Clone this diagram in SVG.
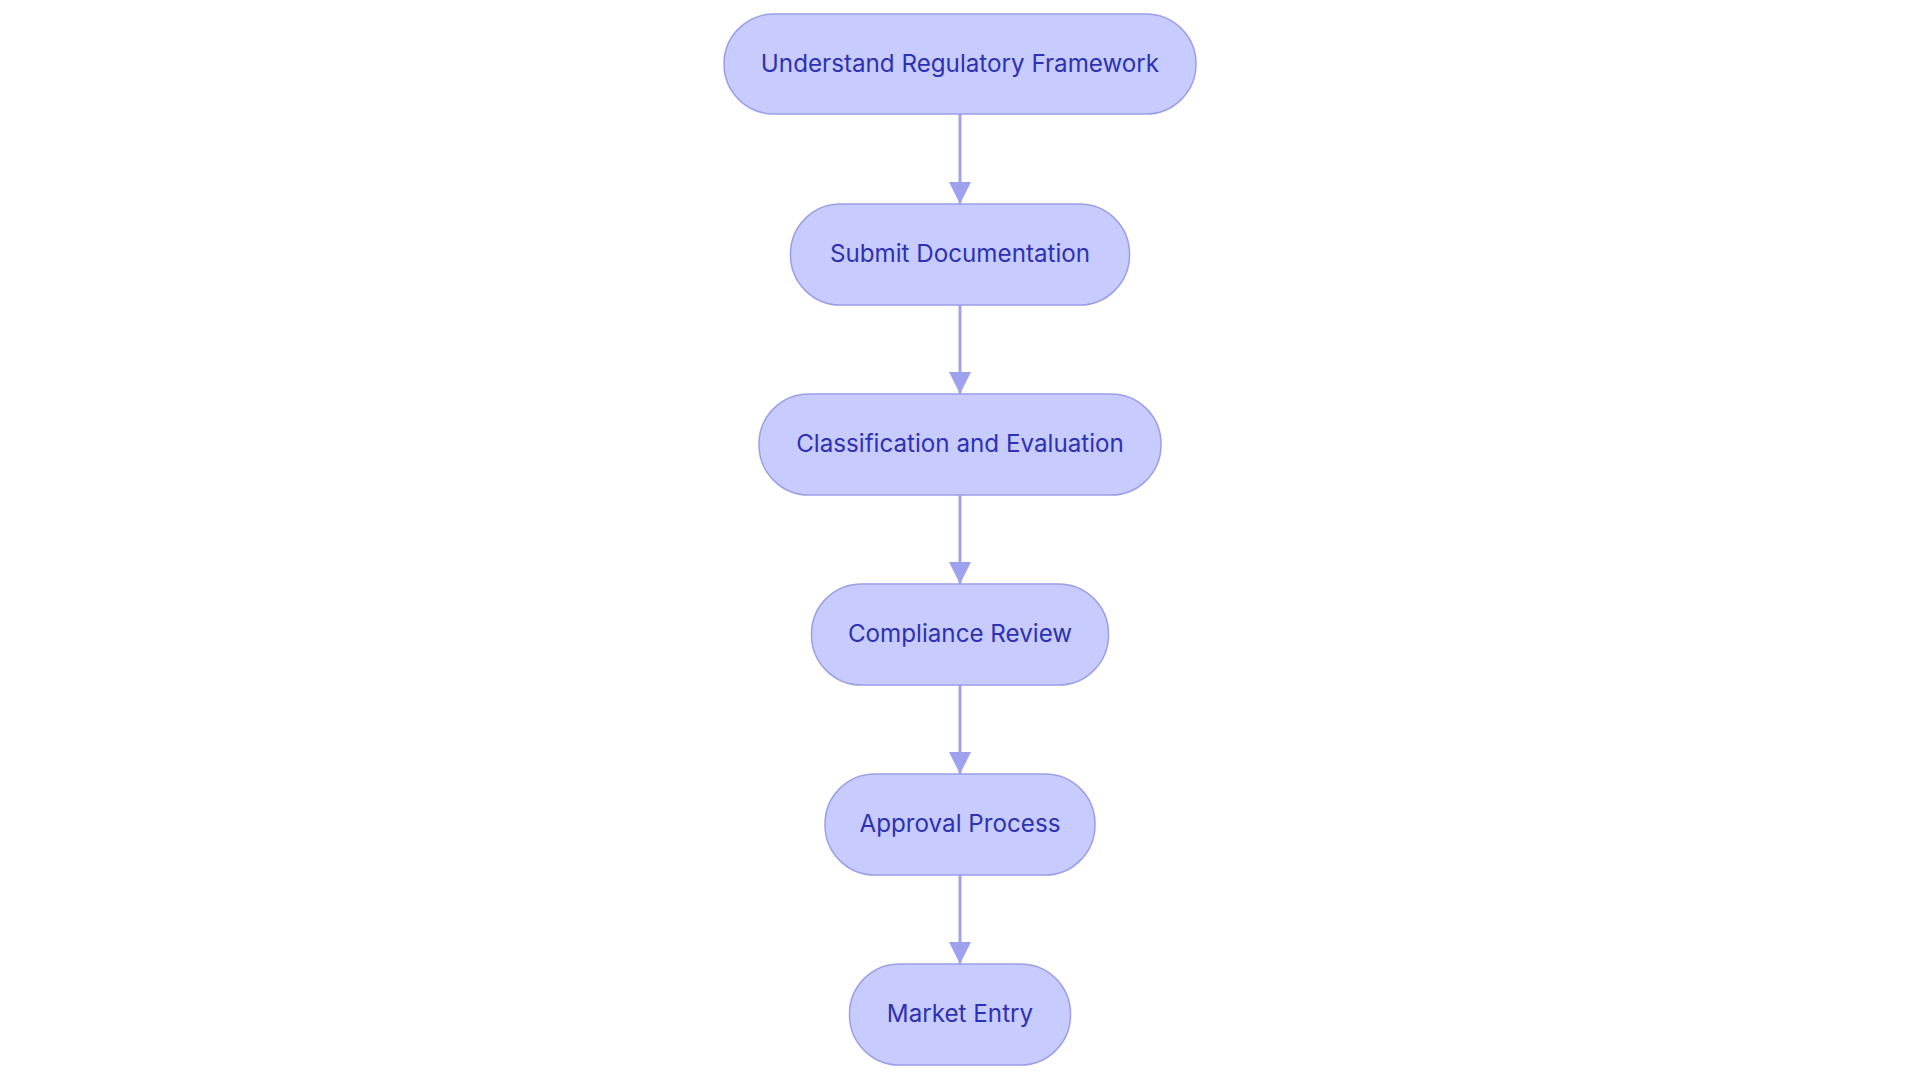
<svg xmlns="http://www.w3.org/2000/svg" width="1920" height="1083" viewBox="0 0 1920 1083">
<style>
.node rect{fill:#c8cbfd;stroke:#9b9fe8;stroke-width:1.5}
.node text{font-family:Inter,"Noto Sans",sans-serif;font-size:24.2px;fill:#2d31b3;text-anchor:middle;dominant-baseline:central}
.edge{stroke:#9ea2ee;stroke-width:3;fill:none}
</style>
<defs>
<marker id="arrow" viewBox="0 0 22 22" refX="22" refY="11" markerWidth="22" markerHeight="22" markerUnits="userSpaceOnUse" orient="auto">
<path d="M0,0 L22,11 L0,22 Z" fill="#9ea2ee"/>
</marker>
</defs>
<rect width="1920" height="1083" fill="#ffffff"/>
<g id="connectors">
<line class="edge" x1="960" y1="114" x2="960" y2="204" marker-end="url(#arrow)"/>
<line class="edge" x1="960" y1="305" x2="960" y2="394" marker-end="url(#arrow)"/>
<line class="edge" x1="960" y1="495" x2="960" y2="584" marker-end="url(#arrow)"/>
<line class="edge" x1="960" y1="685" x2="960" y2="774" marker-end="url(#arrow)"/>
<line class="edge" x1="960" y1="875" x2="960" y2="964" marker-end="url(#arrow)"/>
</g>
<g id="n1" class="node"><rect x="724" y="14" width="472" height="100" rx="50"/><text x="960" y="63.5">Understand Regulatory Framework</text></g>
<g id="n2" class="node"><rect x="790.5" y="204" width="339" height="101" rx="50"/><text x="960" y="253.5">Submit Documentation</text></g>
<g id="n3" class="node"><rect x="759" y="394" width="402" height="101" rx="50"/><text x="960" y="443.5">Classification and Evaluation</text></g>
<g id="n4" class="node"><rect x="811.5" y="584" width="297" height="101" rx="50"/><text x="960" y="633.5">Compliance Review</text></g>
<g id="n5" class="node"><rect x="825" y="774" width="270" height="101" rx="50"/><text x="960" y="823.5">Approval Process</text></g>
<g id="n6" class="node"><rect x="849.5" y="964" width="221" height="101" rx="50"/><text x="960" y="1013.5">Market Entry</text></g>
</svg>
